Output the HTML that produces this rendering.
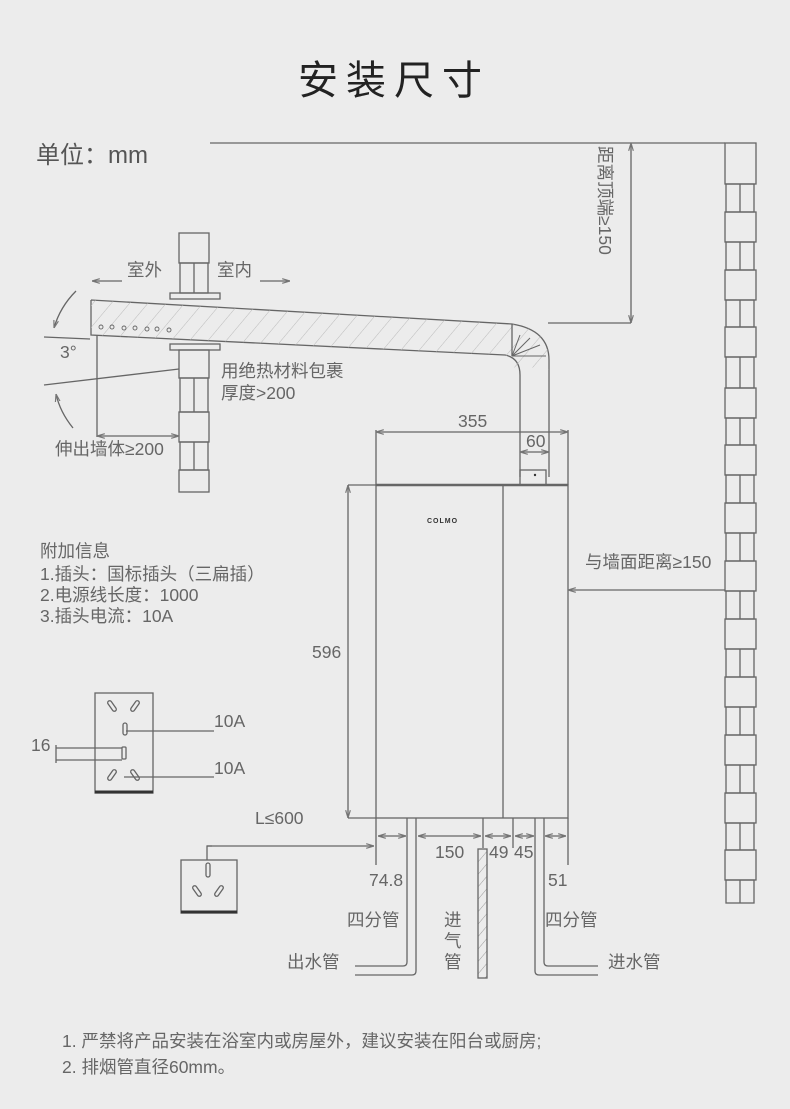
<!DOCTYPE html>
<html><head><meta charset="utf-8"><style>
html,body{margin:0;padding:0;background:#ececec;}
svg{display:block;}
text{font-family:"Liberation Sans","Noto Sans CJK SC",sans-serif;fill:#666;}
</style></head><body>
<svg width="790" height="1109" viewBox="0 0 790 1109" xmlns="http://www.w3.org/2000/svg">
<defs>
<marker id="a" viewBox="0 0 10 10" refX="10" refY="5" markerWidth="6" markerHeight="6" orient="auto-start-reverse"><path d="M0,2 L10,5 L0,8" fill="none" stroke="#777" stroke-width="1.5"/></marker>
<pattern id="h" width="14" height="14" patternUnits="userSpaceOnUse" patternTransform="rotate(40)"><line x1="0" y1="0" x2="0" y2="14" stroke="#bbb" stroke-width="1"/></pattern>
<pattern id="h2" width="8" height="8" patternUnits="userSpaceOnUse" patternTransform="rotate(40)"><line x1="0" y1="0" x2="0" y2="8" stroke="#999" stroke-width="1"/></pattern>
</defs>
<rect width="790" height="1109" fill="#ececec"/>
<text x="394" y="94" text-anchor="middle" font-size="40" style="fill:#222" letter-spacing="8">安装尺寸</text>
<text x="36" y="163" font-size="24" style="fill:#555">单位：mm</text>

<g stroke="#666" stroke-width="1.3" fill="none">
<line x1="210" y1="143" x2="725" y2="143"/>
<line x1="631" y1="143" x2="631" y2="323" marker-start="url(#a)" marker-end="url(#a)"/>
<line x1="548" y1="323" x2="631" y2="323"/>
<rect x="725" y="143" width="31" height="41"/>
<g>
<rect x="726" y="184" width="28" height="28"/><line x1="740" y1="184" x2="740" y2="212"/>
<rect x="725" y="212" width="31" height="30"/>
<rect x="726" y="242" width="28" height="28"/><line x1="740" y1="242" x2="740" y2="270"/>
<rect x="725" y="270" width="31" height="30"/>
<rect x="726" y="300" width="28" height="27"/><line x1="740" y1="300" x2="740" y2="327"/>
<rect x="725" y="327" width="31" height="30"/>
<rect x="726" y="357" width="28" height="31"/><line x1="740" y1="357" x2="740" y2="388"/>
<rect x="725" y="388" width="31" height="30"/>
<rect x="726" y="418" width="28" height="27"/><line x1="740" y1="418" x2="740" y2="445"/>
<rect x="725" y="445" width="31" height="30"/>
<rect x="726" y="475" width="28" height="28"/><line x1="740" y1="475" x2="740" y2="503"/>
<rect x="725" y="503" width="31" height="30"/>
<rect x="726" y="533" width="28" height="28"/><line x1="740" y1="533" x2="740" y2="561"/>
<rect x="725" y="561" width="31" height="30"/>
<rect x="726" y="591" width="28" height="28"/><line x1="740" y1="591" x2="740" y2="619"/>
<rect x="725" y="619" width="31" height="30"/>
<rect x="726" y="649" width="28" height="28"/><line x1="740" y1="649" x2="740" y2="677"/>
<rect x="725" y="677" width="31" height="30"/>
<rect x="726" y="707" width="28" height="28"/><line x1="740" y1="707" x2="740" y2="735"/>
<rect x="725" y="735" width="31" height="30"/>
<rect x="726" y="765" width="28" height="28"/><line x1="740" y1="765" x2="740" y2="793"/>
<rect x="725" y="793" width="31" height="30"/>
<rect x="726" y="823" width="28" height="27"/><line x1="740" y1="823" x2="740" y2="850"/>
<rect x="725" y="850" width="31" height="30"/>
<rect x="726" y="880" width="28" height="23"/><line x1="740" y1="880" x2="740" y2="903"/>
</g>
<rect x="179" y="233" width="30" height="30"/>
<rect x="180" y="263" width="28" height="30"/><line x1="194" y1="263" x2="194" y2="293"/>
<rect x="170" y="293" width="50" height="6"/>
<rect x="170" y="344" width="50" height="6"/>
<rect x="179" y="350" width="30" height="28"/>
<rect x="180" y="378" width="28" height="34"/><line x1="194" y1="378" x2="194" y2="412"/>
<rect x="179" y="412" width="30" height="30"/>
<rect x="180" y="442" width="28" height="28"/><line x1="194" y1="442" x2="194" y2="470"/>
<rect x="179" y="470" width="30" height="22"/>
<path d="M91,300 L512,324 Q549,330 549,360 L549,477 M91,300 L91,335 L505,355 Q520,358 520,375 L520,477" />
<path d="M91,300 L512,324 Q549,330 549,360 L549,370 Q540,360 520,375 L505,355 L91,335 Z" fill="url(#h)" stroke="none"/>
<line x1="512" y1="324" x2="512" y2="356"/>
<path d="M512,356 L520,335 M512,356 L530,338 M512,356 L540,345 M512,356 L546,356" stroke-width="1"/>
<g stroke-width="0.9"><circle cx="101" cy="327" r="2"/><circle cx="112" cy="327" r="2"/><circle cx="124" cy="328" r="2"/><circle cx="135" cy="328" r="2"/><circle cx="147" cy="329" r="2"/><circle cx="157" cy="329" r="2"/><circle cx="169" cy="330" r="2"/></g>
<rect x="520" y="470" width="26" height="15"/>
<line x1="122" y1="281" x2="92" y2="281" marker-end="url(#a)"/>
<line x1="260" y1="281" x2="290" y2="281" marker-end="url(#a)"/>
<line x1="44" y1="337" x2="90" y2="339"/>
<line x1="44" y1="385" x2="179" y2="369"/>
<path d="M76,291 Q60,307 54,328" marker-end="url(#a)"/>
<path d="M73,428 Q60,412 56,394" marker-end="url(#a)"/>
<line x1="97" y1="335" x2="97" y2="437"/>
<line x1="97" y1="436" x2="179" y2="436" marker-start="url(#a)" marker-end="url(#a)"/>
<rect x="376" y="485" width="192" height="333"/>
<line x1="376" y1="485" x2="568" y2="485" stroke-width="2.5"/>
<line x1="503" y1="485" x2="503" y2="818"/>
<line x1="376" y1="430" x2="376" y2="485"/>
<line x1="568" y1="430" x2="568" y2="485"/>
<line x1="376" y1="432" x2="568" y2="432" marker-start="url(#a)" marker-end="url(#a)"/>
<line x1="520" y1="452" x2="549" y2="452" marker-start="url(#a)" marker-end="url(#a)"/>
<line x1="348" y1="485" x2="348" y2="818" marker-start="url(#a)" marker-end="url(#a)"/>
<line x1="348" y1="485" x2="376" y2="485"/>
<line x1="348" y1="818" x2="376" y2="818"/>
<line x1="725" y1="590" x2="568" y2="590" marker-end="url(#a)"/>
<line x1="376" y1="818" x2="376" y2="865"/>
<line x1="483" y1="818" x2="483" y2="848"/>
<line x1="513" y1="818" x2="513" y2="848"/>
<line x1="568" y1="818" x2="568" y2="865"/>
<line x1="378" y1="836" x2="406" y2="836" marker-start="url(#a)" marker-end="url(#a)"/>
<line x1="418" y1="836" x2="481" y2="836" marker-start="url(#a)" marker-end="url(#a)"/>
<line x1="485" y1="836" x2="511" y2="836" marker-start="url(#a)" marker-end="url(#a)"/>
<line x1="515" y1="836" x2="534" y2="836" marker-start="url(#a)" marker-end="url(#a)"/>
<line x1="545" y1="836" x2="566" y2="836" marker-start="url(#a)" marker-end="url(#a)"/>
<line x1="207" y1="846" x2="374" y2="846" marker-end="url(#a)"/>
<path d="M207,860 L207,846 L212,846"/>
<path d="M407,818 L407,962 Q407,966 403,966 L355,966"/>
<path d="M416,818 L416,971 Q416,975 412,975 L355,975"/>
<path d="M544,818 L544,962 Q544,966 548,966 L598,966"/>
<path d="M535,818 L535,971 Q535,975 539,975 L598,975"/>
<rect x="478" y="849" width="9" height="129" fill="url(#h2)"/>
<rect x="95" y="693" width="58" height="100"/>
<line x1="95" y1="792" x2="153" y2="792" stroke="#333" stroke-width="3"/>
<rect x="123" y="723" width="4" height="12" rx="2"/>
<rect x="122" y="747" width="4" height="12" rx="1"/>
<line x1="56" y1="748" x2="122" y2="748"/>
<line x1="56" y1="760" x2="122" y2="760"/>
<line x1="56" y1="745" x2="56" y2="763"/>
<line x1="126" y1="731" x2="214" y2="731"/>
<line x1="124" y1="777" x2="214" y2="777"/>
<g transform="translate(112,706) rotate(-35)"><rect x="-2" y="-6" width="4" height="12" rx="2"/></g>
<g transform="translate(135,706) rotate(35)"><rect x="-2" y="-6" width="4" height="12" rx="2"/></g>
<g transform="translate(112,775) rotate(35)"><rect x="-2" y="-6" width="4" height="12" rx="2"/></g>
<g transform="translate(135,775) rotate(-35)"><rect x="-2" y="-6" width="4" height="12" rx="2"/></g>
<rect x="181" y="860" width="56" height="53"/>
<line x1="181" y1="912" x2="237" y2="912" stroke="#333" stroke-width="3"/>
<rect x="206" y="863" width="4" height="14" rx="2"/>
<g transform="translate(197,891) rotate(-35)"><rect x="-2" y="-6" width="4" height="12" rx="2"/></g>
<g transform="translate(219,891) rotate(35)"><rect x="-2" y="-6" width="4" height="12" rx="2"/></g>
</g>
<circle cx="535" cy="475" r="1.2" fill="#333"/>

<g font-size="17.5">
<text x="127" y="276">室外</text>
<text x="217" y="276">室内</text>
<text x="60" y="358">3°</text>
<text x="221" y="377">用绝热材料包裹</text>
<text x="221" y="399">厚度&gt;200</text>
<text x="55" y="455">伸出墙体≥200</text>
<text x="458" y="427">355</text>
<text x="526" y="447">60</text>
<text x="312" y="658">596</text>
<text x="585" y="568">与墙面距离≥150</text>
<text x="40" y="557">附加信息</text>
<text x="40" y="580">1.插头：国标插头（三扁插）</text>
<text x="40" y="601">2.电源线长度：1000</text>
<text x="40" y="622">3.插头电流：10A</text>
<text x="214" y="727">10A</text>
<text x="214" y="774">10A</text>
<text x="31" y="751">16</text>
<text x="255" y="824">L≤600</text>
<text x="435" y="858">150</text>
<text x="489" y="858">49</text>
<text x="514" y="858">45</text>
<text x="369" y="886">74.8</text>
<text x="548" y="886">51</text>
<text x="347" y="926">四分管</text>
<text x="545" y="926">四分管</text>
<text x="287" y="968">出水管</text>
<text x="608" y="968">进水管</text>
<text x="444" y="926">进</text>
<text x="444" y="947">气</text>
<text x="444" y="968">管</text>
</g>
<text x="0" y="0" font-size="17.5" transform="translate(599,146) rotate(90)">距离顶端≥150</text>
<text x="427" y="523" font-size="7" style="fill:#333;font-weight:bold" letter-spacing="1">COLMO</text>
<g font-size="17.5" style="fill:#555">
<text x="62" y="1047">1. 严禁将产品安装在浴室内或房屋外，建议安装在阳台或厨房;</text>
<text x="62" y="1073">2. 排烟管直径60mm。</text>
</g>
</svg>
</body></html>
